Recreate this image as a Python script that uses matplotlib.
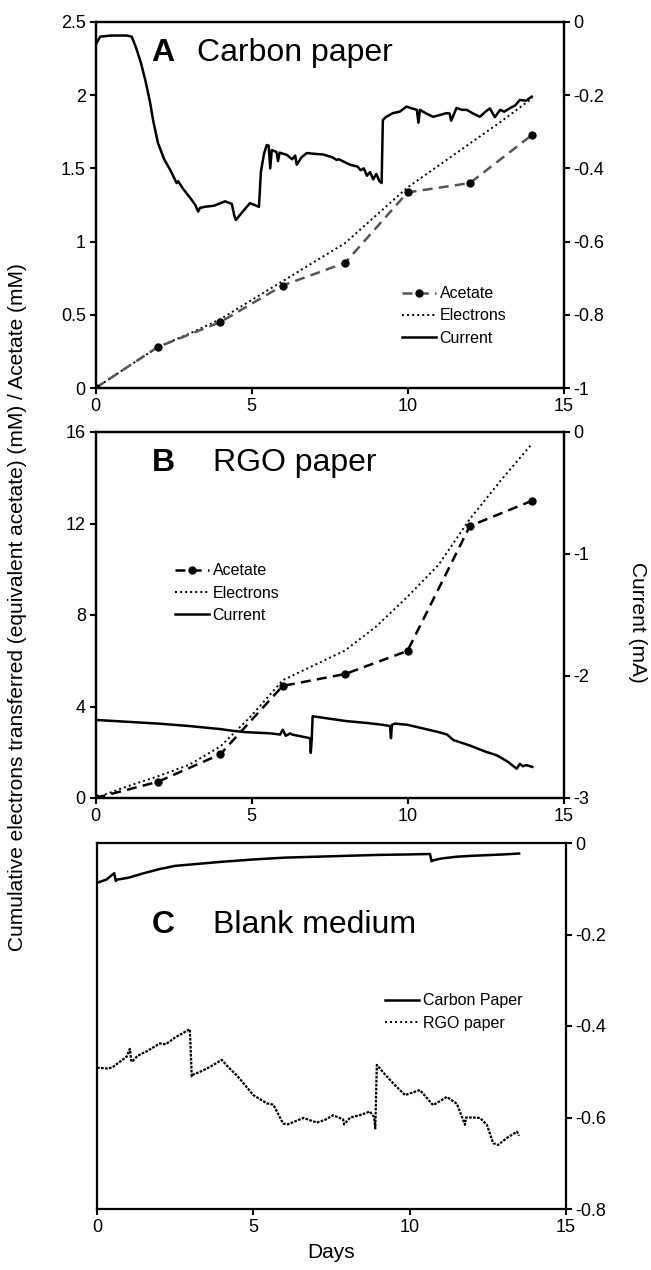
import matplotlib
matplotlib.use("Agg")
import matplotlib.pyplot as plt
from matplotlib.ticker import FuncFormatter
from matplotlib.lines import Line2D

plt.rcParams['font.family'] = ['Liberation Sans', 'DejaVu Sans']
plt.rcParams['axes.unicode_minus'] = False

# ---- data ----
sample_days = [0, 2, 4, 6, 8, 10, 12, 14]
elec_days = [0, 1, 2, 3, 4, 5, 6, 7, 8, 9, 10, 11, 12, 13, 14]

# A: carbon paper
acetate_a = [0, 0.28, 0.45, 0.70, 0.855, 1.336, 1.40, 1.73]
electrons_a = [0, 0.14, 0.28, 0.37, 0.47, 0.60, 0.73, 0.86, 0.99, 1.18, 1.37, 1.52, 1.67, 1.82, 1.98]
cur_days_a = [0, 0.15, 0.5, 1.0, 1.16, 1.3, 1.45, 1.6, 1.75, 1.85, 2.0, 2.2, 2.4, 2.6, 2.65,
              2.8, 3.03, 3.2, 3.29, 3.35, 3.5, 3.8, 4.15, 4.37, 4.45, 4.5, 4.63, 4.8, 4.95, 5.1,
              5.24, 5.3, 5.4, 5.49, 5.55, 5.6, 5.65, 5.8, 5.85, 5.9, 6.13, 6.3, 6.4, 6.45, 6.6,
              6.77, 7.0, 7.3, 7.6, 7.73, 7.8, 8.16, 8.4, 8.5, 8.6, 8.7, 8.8, 8.9, 9.0, 9.1,
              9.17, 9.21, 9.3, 9.53, 9.75, 9.97, 10.1, 10.3, 10.35, 10.4, 10.6, 10.82, 11.0, 11.25, 11.35,
              11.4, 11.57, 11.75, 11.9, 12.1, 12.32, 12.5, 12.64, 12.8, 12.97, 13.1, 13.29, 13.45, 13.6, 13.8,
              13.98]
current_a = [-0.063, -0.04, -0.037, -0.037, -0.04, -0.07, -0.11, -0.16, -0.22, -0.27, -0.33, -0.375, -0.405, -0.44, -0.435,
             -0.455, -0.48, -0.5, -0.518, -0.508, -0.505, -0.502, -0.49, -0.497, -0.53, -0.541, -0.527, -0.51, -0.495, -0.5,
             -0.505, -0.41, -0.36, -0.336, -0.338, -0.40, -0.35, -0.355, -0.38, -0.357, -0.363, -0.375, -0.365, -0.39, -0.37,
             -0.358, -0.36, -0.362, -0.37, -0.377, -0.375, -0.39, -0.395, -0.405, -0.40, -0.42, -0.41, -0.43, -0.415, -0.435,
             -0.44, -0.268, -0.26, -0.249, -0.245, -0.231, -0.235, -0.24, -0.275, -0.24, -0.25, -0.259, -0.255, -0.249, -0.25,
             -0.27, -0.235, -0.24, -0.24, -0.25, -0.259, -0.245, -0.236, -0.26, -0.24, -0.245, -0.235, -0.228, -0.213, -0.215,
             -0.204]

# B: RGO paper
acetate_b = [0, 0.71, 1.91, 4.9, 5.42, 6.43, 11.89, 13.0]
electrons_b = [0, 0.5, 0.95, 1.45, 2.25, 3.6, 5.15, 5.8, 6.45, 7.5, 8.8, 10.2, 12.2, 13.9, 15.5]
cur_days_b = [0, 1, 2, 3, 4, 4.42, 4.8, 5.2, 5.6, 5.92, 6.0, 6.1, 6.24, 6.3, 6.5,
              6.88, 6.9, 6.93, 6.96, 7.5, 8.05, 8.7, 9.2, 9.44, 9.47, 9.5, 9.6, 10.0, 10.5, 11.0,
              11.27, 11.47, 12.0, 12.5, 12.86, 13.2, 13.5, 13.6, 13.7, 13.8, 14.0]
current_b = [-2.36, -2.375, -2.39, -2.41, -2.435, -2.45, -2.46, -2.465, -2.47, -2.48, -2.44, -2.49, -2.47, -2.48, -2.49,
             -2.51, -2.63, -2.52, -2.33, -2.35, -2.37, -2.385, -2.40, -2.41, -2.51, -2.40, -2.39, -2.40, -2.43, -2.46,
             -2.48, -2.525, -2.57, -2.62, -2.65, -2.70, -2.76, -2.72, -2.74, -2.73, -2.745]

# C: blank medium
days_c_cp = [0, 0.3, 0.55, 0.6, 0.65, 1.0, 1.5, 2.0, 2.5, 3.0, 4.0, 5.0, 6.0, 7.0, 8.0,
             9.0, 10.0, 10.65, 10.7, 10.75, 11.0, 11.5, 12.0, 13.0, 13.5]
blank_cp = [-0.087, -0.08, -0.066, -0.083, -0.08, -0.076, -0.066, -0.057, -0.05, -0.047, -0.041, -0.036, -0.032, -0.03, -0.028,
            -0.026, -0.025, -0.024, -0.04, -0.038, -0.034, -0.03, -0.028, -0.025, -0.023]
days_c_rgo = [0, 0.35, 0.5, 0.95, 1.05, 1.1, 1.15, 1.3, 1.6, 2.01, 2.2, 2.5, 2.97, 3.03, 3.05,
              3.3, 3.6, 3.99, 4.2, 4.5, 5.0, 5.43, 5.64, 5.95, 6.1, 6.6, 7.03, 7.3, 7.55, 7.87,
              7.9, 8.1, 8.4, 8.73, 8.86, 8.9, 8.95, 9.2, 9.47, 9.85, 10.33, 10.75, 11.19, 11.51, 11.77,
              11.8, 12.0, 12.25, 12.47, 12.67, 12.83, 13.1, 13.43, 13.5]
blank_rgo = [-0.491, -0.493, -0.49, -0.467, -0.45, -0.478, -0.476, -0.465, -0.455, -0.438, -0.44, -0.425, -0.407, -0.51, -0.507,
             -0.5, -0.49, -0.474, -0.49, -0.51, -0.551, -0.569, -0.572, -0.613, -0.615, -0.601, -0.611, -0.605, -0.595, -0.604,
             -0.615, -0.6, -0.595, -0.587, -0.599, -0.624, -0.485, -0.505, -0.525, -0.551, -0.54, -0.573, -0.555, -0.57, -0.616,
             -0.6, -0.6, -0.601, -0.616, -0.656, -0.66, -0.645, -0.631, -0.64]

# ---- figure ----
W, H = 651, 1270
fig = plt.figure(figsize=(W / 100, H / 100), dpi=100)


def px_axes(x0, y0, x1, y1):
    return fig.add_axes([x0 / W, 1 - y1 / H, (x1 - x0) / W, (y1 - y0) / H])


fmt = FuncFormatter(lambda v, p: '%g' % round(v, 3))
TICK = 13
LABEL = 15
TITLE = 23
dotted = (0, (1, 1.6))


def style(ax):
    for s in ax.spines.values():
        s.set_linewidth(1.6)
    ax.tick_params(direction='out', length=4, width=1.5, labelsize=TICK, pad=3)


def leg_handles(ac_color):
    return [Line2D([], [], color=ac_color, ls=(0, (4, 2.5)), lw=1.8, marker='o', ms=5,
                   mfc='black', mec='black'),
            Line2D([], [], color='black', ls=dotted, lw=1.4),
            Line2D([], [], color='black', lw=1.8)]


# Panel A
axA = px_axes(95.5, 22, 563.5, 388)
axA2 = axA.twinx()
axA.plot(elec_days, electrons_a, color='black', ls=dotted, lw=1.4)
axA.plot(sample_days, acetate_a, color='#555555', ls=(0, (4, 2.5)), lw=1.8, marker='o', ms=5,
         mfc='black', mec='black')
axA2.plot(cur_days_a, current_a, color='black', lw=1.8)
axA.set_xlim(0, 15)
axA.set_ylim(0, 2.5)
axA2.set_ylim(-1, 0)
axA.set_xticks([0, 5, 10, 15])
axA.set_yticks([0, 0.5, 1, 1.5, 2, 2.5])
axA2.set_yticks([0, -0.2, -0.4, -0.6, -0.8, -1])
for a in (axA, axA2):
    a.yaxis.set_major_formatter(fmt)
    style(a)
axA.text(0.12, 0.915, 'A', transform=axA.transAxes, fontsize=TITLE, fontweight='bold', va='center')
axA.text(0.217, 0.915, 'Carbon paper', transform=axA.transAxes, fontsize=TITLE, va='center')
axA2.legend(leg_handles('#555555'), ['Acetate', 'Electrons', 'Current'], loc='center left',
            bbox_to_anchor=(0.655, 0.197), frameon=False, fontsize=11.5, handlelength=2.1,
            handletextpad=0.25, labelspacing=0.45, borderpad=0, borderaxespad=0)

# Panel B
axB = px_axes(95.5, 432, 563.5, 798)
axB2 = axB.twinx()
axB.plot(elec_days, electrons_b, color='black', ls=dotted, lw=1.4)
axB.plot(sample_days, acetate_b, color='black', ls=(0, (4, 2.5)), lw=1.8, marker='o', ms=5,
         mfc='black', mec='black')
axB2.plot(cur_days_b, current_b, color='black', lw=1.8)
axB.set_xlim(0, 15)
axB.set_ylim(0, 16)
axB2.set_ylim(-3, 0)
axB.set_xticks([0, 5, 10, 15])
axB.set_yticks([0, 4, 8, 12, 16])
axB2.set_yticks([0, -1, -2, -3])
for a in (axB, axB2):
    a.yaxis.set_major_formatter(fmt)
    style(a)
axB.text(0.12, 0.915, 'B', transform=axB.transAxes, fontsize=TITLE, fontweight='bold', va='center')
axB.text(0.251, 0.915, 'RGO paper', transform=axB.transAxes, fontsize=TITLE, va='center')
axB2.legend(leg_handles('black'), ['Acetate', 'Electrons', 'Current'], loc='center left',
            bbox_to_anchor=(0.17, 0.56), frameon=False, fontsize=11.5, handlelength=2.1,
            handletextpad=0.25, labelspacing=0.45, borderpad=0, borderaxespad=0)

# Panel C
axC = px_axes(97, 843, 566, 1209)
axC.plot(days_c_cp, blank_cp, color='black', lw=1.8, label='Carbon Paper')
axC.plot(days_c_rgo, blank_rgo, color='black', ls=(0, (1.2, 0.6)), lw=1.6, label='RGO paper')
axC.set_xlim(0, 15)
axC.set_ylim(-0.8, 0)
axC.set_xticks([0, 5, 10, 15])
axC.set_yticks([0, -0.2, -0.4, -0.6, -0.8])
axC.yaxis.tick_right()
axC.yaxis.set_major_formatter(fmt)
style(axC)
axC.set_xlabel('Days', fontsize=LABEL, labelpad=5)
axC.text(0.117, 0.776, 'C', transform=axC.transAxes, fontsize=TITLE, fontweight='bold', va='center')
axC.text(0.247, 0.776, 'Blank medium', transform=axC.transAxes, fontsize=TITLE, va='center')
axC.legend([Line2D([], [], color='black', lw=1.8), Line2D([], [], color='black', ls=dotted, lw=1.4)],
           ['Carbon Paper', 'RGO paper'], loc='center left', bbox_to_anchor=(0.614, 0.538),
           frameon=False, fontsize=11.5, handlelength=2.1, handletextpad=0.25, labelspacing=0.45,
           borderpad=0, borderaxespad=0)

fig.text(18 / W, 1 - 607 / H,
         'Cumulative electrons transferred (equivalent acetate) (mM) / Acetate (mM)',
         rotation=90, ha='center', va='center', fontsize=LABEL)
fig.text(637 / W, 1 - 622 / H, 'Current (mA)', rotation=-90, ha='center', va='center', fontsize=LABEL)

fig.savefig('out.png', dpi=100)
print("[OK] Generated out.png")
